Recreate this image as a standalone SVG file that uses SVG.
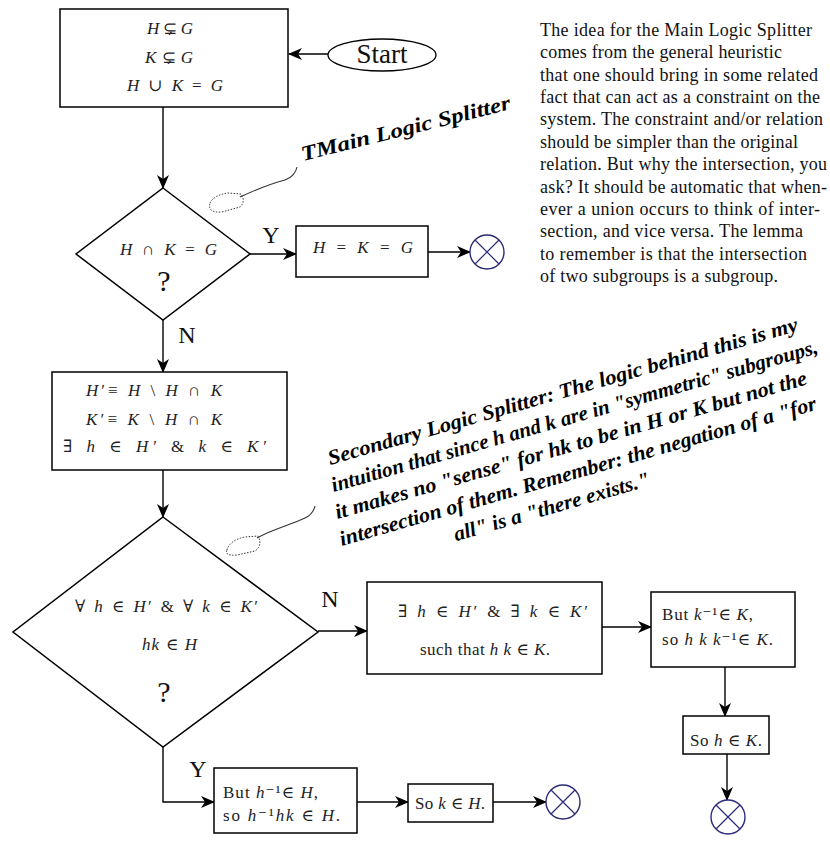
<svg xmlns="http://www.w3.org/2000/svg" xmlns:xlink="http://www.w3.org/1999/xlink" width="830" height="843" viewBox="0 0 830 843">
<style>
.box{fill:#fff;stroke:#000;stroke-width:1.5}
.ln{fill:none;stroke:#000;stroke-width:1.4}
.m{font-family:"Liberation Serif","DejaVu Serif",serif;font-size:17px;fill:#222}
.i{font-style:italic}
.lbl{font-family:"Liberation Serif",serif;font-size:24px;fill:#111}
.q{font-family:"Liberation Serif",serif;font-size:30px;fill:#111;text-anchor:middle}
.para{font-family:"Liberation Serif",serif;font-size:18px;fill:#111}
.script{font-family:"Liberation Serif","DejaVu Serif",serif;font-style:italic;font-weight:bold;font-size:21px;fill:#000}
.endc{fill:#fff;stroke:#2a2a78;stroke-width:1.4}
.call{fill:none;stroke:#333;stroke-width:1.1}
.dot{fill:none;stroke:#333;stroke-width:1;stroke-dasharray:1.5 1.5}
</style>
<defs>
<marker id="ah" markerWidth="14" markerHeight="12" refX="13" refY="6" orient="auto" markerUnits="userSpaceOnUse">
<path d="M0,0 L14,6 L0,12 L4,6 Z" fill="#000"/>
</marker>
<g id="stop">
<circle cx="0" cy="0" r="17" class="endc"/>
<path d="M-12,-12 L12,12 M12,-12 L-12,12" stroke="#2a2a78" stroke-width="1.2"/>
</g>
</defs>
<rect width="830" height="843" fill="#fff"/>

<g id="connectors">
<path class="ln" d="M328,54 L289,54" marker-end="url(#ah)"/>
<path class="ln" d="M163,107 L163,188" marker-end="url(#ah)"/>
<path class="ln" d="M250,254 L296,254" marker-end="url(#ah)"/>
<path class="ln" d="M428,252 L470,252" marker-end="url(#ah)"/>
<path class="ln" d="M163,320 L163,372" marker-end="url(#ah)"/>
<path class="ln" d="M163,470 L163,517" marker-end="url(#ah)"/>
<path class="ln" d="M318,631 L367,631" marker-end="url(#ah)"/>
<path class="ln" d="M602,627 L651,627" marker-end="url(#ah)"/>
<path class="ln" d="M725,667 L725,716" marker-end="url(#ah)"/>
<path class="ln" d="M727,754 L727,800" marker-end="url(#ah)"/>
<path class="ln" d="M163,747 L163,802 L214,802" marker-end="url(#ah)"/>
<path class="ln" d="M357,802 L408,802" marker-end="url(#ah)"/>
<path class="ln" d="M493,802 L546,802" marker-end="url(#ah)"/>
<text class="lbl" x="271" y="243" text-anchor="middle">Y</text>
<text class="lbl" x="187" y="343" text-anchor="middle">N</text>
<text class="lbl" x="330" y="607" text-anchor="middle">N</text>
<text class="lbl" x="198" y="777" text-anchor="middle">Y</text>
</g>

<g id="box1">
<rect class="box" x="60" y="9" width="228" height="98"/>
<text class="m" x="147" y="34" textLength="46"><tspan class="i">H</tspan> ⊊ <tspan class="i">G</tspan></text>
<text class="m" x="145" y="63" textLength="48"><tspan class="i">K</tspan> ⊊ <tspan class="i">G</tspan></text>
<text class="m" x="127" y="91" textLength="96"><tspan class="i">H</tspan> ∪ <tspan class="i">K</tspan> = <tspan class="i">G</tspan></text>
</g>

<g id="start">
<ellipse cx="382" cy="55" rx="54" ry="16" fill="#fff" stroke="#000" stroke-width="1.3"/>
<text x="382" y="63" text-anchor="middle" font-family="Liberation Serif, serif" font-size="27" fill="#111">Start</text>
</g>

<g id="decision1">
<path class="box" d="M163,188 L250,254 L163,320 L76,254 Z"/>
<text class="m" x="120" y="255" textLength="97"><tspan class="i">H</tspan> ∩ <tspan class="i">K</tspan> = <tspan class="i">G</tspan></text>
<text class="q" x="164" y="291">?</text>
</g>

<g id="equal-box">
<rect class="box" x="296" y="226" width="132" height="51"/>
<text class="m" x="313" y="253" textLength="100"><tspan class="i">H</tspan> = <tspan class="i">K</tspan> = <tspan class="i">G</tspan></text>
</g>

<g id="end1"><use xlink:href="#stop" x="487" y="252"/></g>

<g id="box2">
<rect class="box" x="52" y="372" width="235" height="98"/>
<text class="m" x="86" y="396" textLength="136"><tspan class="i">H</tspan>′≡ <tspan class="i">H</tspan> \ <tspan class="i">H</tspan> ∩ <tspan class="i">K</tspan></text>
<text class="m" x="86" y="425" textLength="136"><tspan class="i">K</tspan>′≡ <tspan class="i">K</tspan> \ <tspan class="i">H</tspan> ∩ <tspan class="i">K</tspan></text>
<text class="m" x="63" y="452" textLength="204">∃ <tspan class="i">h</tspan> ∈ <tspan class="i">H</tspan>′ &amp; <tspan class="i">k</tspan> ∈ <tspan class="i">K</tspan>′</text>
</g>

<g id="decision2">
<path class="box" d="M163,517 L318,632 L163,747 L13,632 Z"/>
<text class="m" x="75" y="612" textLength="183">∀ <tspan class="i">h</tspan> ∈ <tspan class="i">H</tspan>′ &amp; ∀ <tspan class="i">k</tspan> ∈ <tspan class="i">K</tspan>′</text>
<text class="m" x="142" y="650" textLength="55"><tspan class="i">hk</tspan> ∈ <tspan class="i">H</tspan></text>
<text class="q" x="164" y="702">?</text>
</g>

<g id="exists-box">
<rect class="box" x="367" y="582" width="235" height="92"/>
<text class="m" x="398" y="617" textLength="190">∃ <tspan class="i">h</tspan> ∈ <tspan class="i">H</tspan>′ &amp; ∃ <tspan class="i">k</tspan> ∈ <tspan class="i">K</tspan>′</text>
<text class="m" x="420" y="655" textLength="130">such that <tspan class="i">h k</tspan> ∈ <tspan class="i">K</tspan>.</text>
</g>

<g id="but-k-box">
<rect class="box" x="651" y="592" width="144" height="75"/>
<text class="m" x="662" y="620" textLength="91">But <tspan class="i">k</tspan>⁻¹∈ <tspan class="i">K</tspan>,</text>
<text class="m" x="662" y="645" textLength="111">so <tspan class="i">h k k</tspan>⁻¹∈ <tspan class="i">K</tspan>.</text>
</g>

<g id="so-h-box">
<rect class="box" x="683" y="716" width="86" height="38"/>
<text class="m" x="690" y="746" textLength="72">So <tspan class="i">h</tspan> ∈ <tspan class="i">K</tspan>.</text>
</g>

<g id="end3"><use xlink:href="#stop" x="728" y="817"/></g>

<g id="but-h-box">
<rect class="box" x="214" y="768" width="143" height="65"/>
<text class="m" x="223" y="798" textLength="95">But <tspan class="i">h</tspan>⁻¹∈ <tspan class="i">H</tspan>,</text>
<text class="m" x="223" y="821" textLength="117">so <tspan class="i">h</tspan>⁻¹<tspan class="i">hk</tspan> ∈ <tspan class="i">H</tspan>.</text>
</g>

<g id="so-k-box">
<rect class="box" x="408" y="784" width="85" height="38"/>
<text class="m" x="415" y="809" textLength="70">So <tspan class="i">k</tspan> ∈ <tspan class="i">H</tspan>.</text>
</g>

<g id="end2"><use xlink:href="#stop" x="563" y="802"/></g>

<g id="annotations">
<path class="call" d="M240,197 C255,190 270,184 285,180 C292,178 296,172 297,167"/>
<path class="dot" d="M210,203 Q214,195 228,193 L241,194 Q246,201 240,207 L222,212 Q207,213 210,203 Z"/>
<path class="call" d="M257,538 C270,530 290,525 305,518 C312,515 314,510 315,506"/>
<path class="dot" d="M227,550 Q230,540 245,537 L258,536 Q263,545 255,551 L237,555 Q224,556 227,550 Z"/>
<text class="script" transform="translate(303,161) rotate(-14)" x="0" y="0" textLength="215" lengthAdjust="spacingAndGlyphs">TMain Logic Splitter</text>
<g transform="translate(330,465) rotate(-16)" class="script">
<text x="0" y="0" textLength="488" lengthAdjust="spacingAndGlyphs">Secondary Logic Splitter: The logic behind this is my</text>
<text x="-4" y="27" textLength="505" lengthAdjust="spacingAndGlyphs">intuition that since h and k are in "symmetric" subgroups,</text>
<text x="-8" y="54" textLength="490" lengthAdjust="spacingAndGlyphs">it makes no "sense" for hk to be in H or K but not the</text>
<text x="-11" y="81" textLength="495" lengthAdjust="spacingAndGlyphs">intersection of them. Remember: the negation of a "for</text>
<text x="100" y="108" textLength="203" lengthAdjust="spacingAndGlyphs">all" is a "there exists."</text>
</g>
<g class="para">
<text x="540" y="36" textLength="272">The idea for the Main Logic Splitter</text>
<text x="540" y="58.4" textLength="242">comes from the general heuristic</text>
<text x="540" y="80.7" textLength="278">that one should bring in some related</text>
<text x="540" y="103" textLength="280">fact that can act as a constraint on the</text>
<text x="540" y="125.4" textLength="283">system. The constraint and/or relation</text>
<text x="540" y="147.8" textLength="258">should be simpler than the original</text>
<text x="540" y="170" textLength="287">relation. But why the intersection, you</text>
<text x="540" y="192.5" textLength="287">ask? It should be automatic that when-</text>
<text x="540" y="214.8" textLength="280">ever a union occurs to think of inter-</text>
<text x="540" y="237" textLength="263">section, and vice versa. The lemma</text>
<text x="540" y="259.5" textLength="267">to remember is that the intersection</text>
<text x="540" y="282" textLength="238">of two subgroups is a subgroup.</text>
</g>
</g>
</svg>
